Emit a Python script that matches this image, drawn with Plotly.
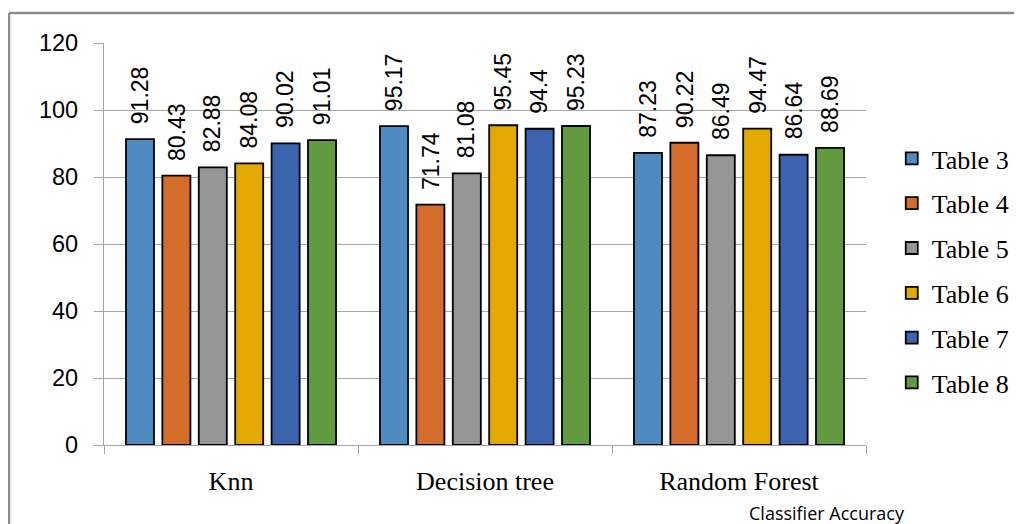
import plotly.graph_objects as go

categories = ["Knn", "Decision tree", "Random Forest"]
series_names = ["Table 3", "Table 4", "Table 5", "Table 6", "Table 7", "Table 8"]
table3 = [91.28, 95.17, 87.23]
table4 = [80.43, 71.74, 90.22]
table5 = [82.88, 81.08, 86.49]
table6 = [84.08, 95.45, 94.47]
table7 = [90.02, 94.4, 86.64]
table8 = [91.01, 95.23, 88.69]
series_values = [table3, table4, table5, table6, table7, table8]
colors = ["#4F8AC0", "#D56D2A", "#969696", "#E3A900", "#3C64AE", "#629B3F"]
y_ticks = [0, 20, 40, 60, 80, 100, 120]

# page body has an 8px margin, so the figure is laid out 8px smaller
W, H = 1014, 516
L, R, T, B = 96, 156, 35, 79
pw, ph = W - L - R, H - T - B
BARGAP, BARGROUPGAP = 0.14, 0.23

fig = go.Figure()
for i, (name, vals) in enumerate(zip(series_names, series_values)):
    fig.add_trace(go.Bar(
        name=name, x=categories, y=vals,
        marker=dict(color=colors[i], line=dict(color="#000000", width=1.8)),
        legendgroup=name,
    ))

# value labels, rotated, above each bar
n = len(series_names)
slot_px = (pw / len(categories)) * (1 - BARGAP) / n
for i, vals in enumerate(series_values):
    for cat, v in zip(categories, vals):
        fig.add_annotation(
            x=cat, y=v, xref="x", yref="y", text=f"{v:g}", textangle=-90,
            xanchor="center", yanchor="bottom", showarrow=False,
            xshift=(i - (n - 1) / 2) * slot_px, yshift=13,
            font=dict(family="Liberation Sans", size=23, color="#000000"),
        )

fig.update_layout(
    width=W, height=H,
    margin=dict(l=L, r=R, t=T, b=B, autoexpand=False),
    paper_bgcolor="white", plot_bgcolor="white",
    barmode="group", bargap=BARGAP, bargroupgap=BARGROUPGAP,
    showlegend=True,
    legend=dict(
        x=(899 - L) / pw - 0.02, xanchor="left",
        y=(H - B - 127) / ph, yanchor="top",
        font=dict(family="Liberation Serif", size=26, color="#000000"),
        tracegroupgap=8, traceorder="grouped",
        bgcolor="rgba(0,0,0,0)",
    ),
)
fig.update_xaxes(
    showline=True, linecolor="#A6A6A6", linewidth=1.2,
    ticks="outside", tickson="boundaries", ticklen=8, tickcolor="#A6A6A6",
    tickfont=dict(family="Liberation Serif", size=26, color="#000000"),
    ticklabelstandoff=13, showgrid=False, automargin=False,
)
fig.update_yaxes(
    range=[0, 120], tickvals=y_ticks, ticktext=[str(v) for v in y_ticks],
    showline=True, linecolor="#A6A6A6", linewidth=1.2,
    ticks="outside", ticklen=9, tickcolor="#A6A6A6",
    showgrid=True, gridcolor="#A6A6A6", gridwidth=1,
    zeroline=False, automargin=False,
    tickfont=dict(family="Liberation Sans", size=23.5, color="#000000"),
    ticklabelstandoff=11,
)

# outer chart frame
fx0 = (1 - L) / pw
fy1 = (H - B - 5) / ph
fig.add_shape(type="line", xref="paper", yref="paper", x0=fx0, x1=fx0, y0=fy1, y1=-0.3,
              line=dict(color="#8C8C8C", width=2.5))
fig.add_shape(type="line", xref="paper", yref="paper", x0=fx0, x1=1.4, y0=fy1, y1=fy1,
              line=dict(color="#8C8C8C", width=2.5))

fig.add_annotation(
    text="Classifier Accuracy", xref="paper", yref="paper",
    x=(819 - L) / pw, y=(H - B - 505) / ph, xanchor="center", yanchor="middle",
    showarrow=False, font=dict(family="Open Sans", size=18, color="#000000"),
)

fig.write_html("out.html")
